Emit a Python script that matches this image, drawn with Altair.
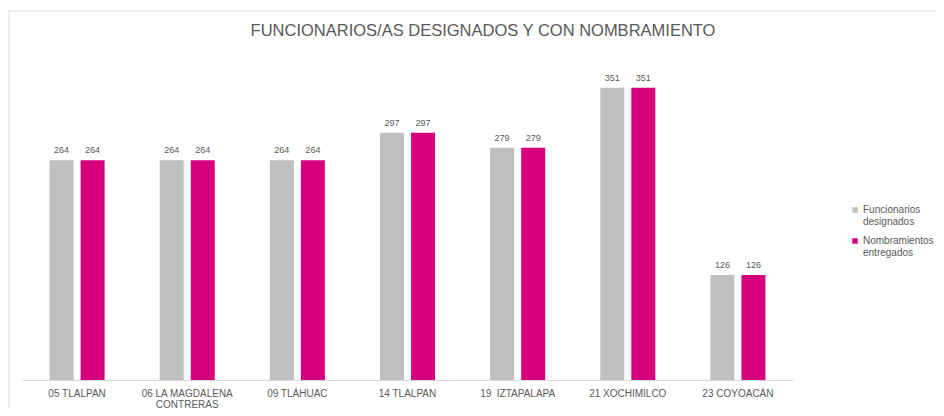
import altair as alt
import pandas as pd

categories = ["05 TLALPAN", "06 LA MAGDALENA|CONTRERAS", "09 TLÁHUAC", "14 TLALPAN",
              "19\u00a0 IZTAPALAPA", "21 XOCHIMILCO", "23 COYOACÁN"]
designados = [264, 264, 264, 297, 279, 351, 126]
nombramientos = [264, 264, 264, 297, 279, 351, 126]
series = ["Funcionarios|designados", "Nombramientos|entregados"]
colors = ["#bfbfbf", "#d6007e"]
title_text = "FUNCIONARIOS/AS DESIGNADOS Y CON NOMBRAMIENTO"

rows = []
for c, a, b in zip(categories, designados, nombramientos):
    rows.append({"cat": c, "serie": series[0], "valor": a})
    rows.append({"cat": c, "serie": series[1], "valor": b})
df = pd.DataFrame(rows)

txt = "#595959"
x = alt.X("cat:N", sort=categories, title=None,
          scale=alt.Scale(paddingInner=0.436, paddingOuter=0.218),
          axis=alt.Axis(labelAngle=0, labelExpr="split(datum.label, '|')",
                        labelFont="Liberation Sans", labelFontSize=10, labelColor=txt,
                        labelPadding=8, labelLineHeight=11, ticks=False,
                        domainColor="#d9d9d9", domainWidth=1, labelLimit=200))
y = alt.Y("valor:Q", title=None, scale=alt.Scale(domain=[0, 400]), axis=None)
xo = alt.XOffset("serie:N", sort=series, scale=alt.Scale(paddingInner=0, paddingOuter=0))

bars = alt.Chart(df).mark_bar(size=24).encode(
    x=x, y=y, xOffset=xo,
    color=alt.Color("serie:N", sort=series,
                    scale=alt.Scale(domain=series, range=colors),
                    legend=alt.Legend(title=None, orient="none", legendX=828, legendY=158,
                                      symbolType="square", symbolSize=30, symbolStrokeWidth=0,
                                      labelExpr="split(datum.label, '|')",
                                      labelFont="Liberation Sans", labelFontSize=10,
                                      labelColor=txt, rowPadding=9, labelOffset=3)),
)
labels = alt.Chart(df).mark_text(baseline="bottom", dy=-5, font="Liberation Sans",
                                 fontSize=9, color=txt).encode(
    x=x, y=y, xOffset=xo, text="valor:Q")

one = pd.DataFrame({"t": [title_text]})
title = alt.Chart(one).mark_text(font="Liberation Sans", fontSize=16.5, color=txt,
                                 align="center", baseline="middle").encode(
    text="t:N", x=alt.value(461), y=alt.value(-16))

frame_top = alt.Chart(one).mark_rule(color="#d9d9d9", strokeWidth=1).encode(
    x=alt.value(-14), x2=alt.value(920), y=alt.value(-36))
frame_left = alt.Chart(one).mark_rule(color="#d9d9d9", strokeWidth=1).encode(
    x=alt.value(-13), y=alt.value(-36), y2=alt.value(380))

chart = alt.layer(frame_top, frame_left, title, bars, labels).properties(
    width=771, height=333,
    padding={"left": 14, "top": 39, "right": 143, "bottom": 28},
    autosize=alt.AutoSizeParams(type="none"),
).configure_view(stroke=None)

chart.save("out.html", embed_options={"renderer": "svg", "actions": False})
